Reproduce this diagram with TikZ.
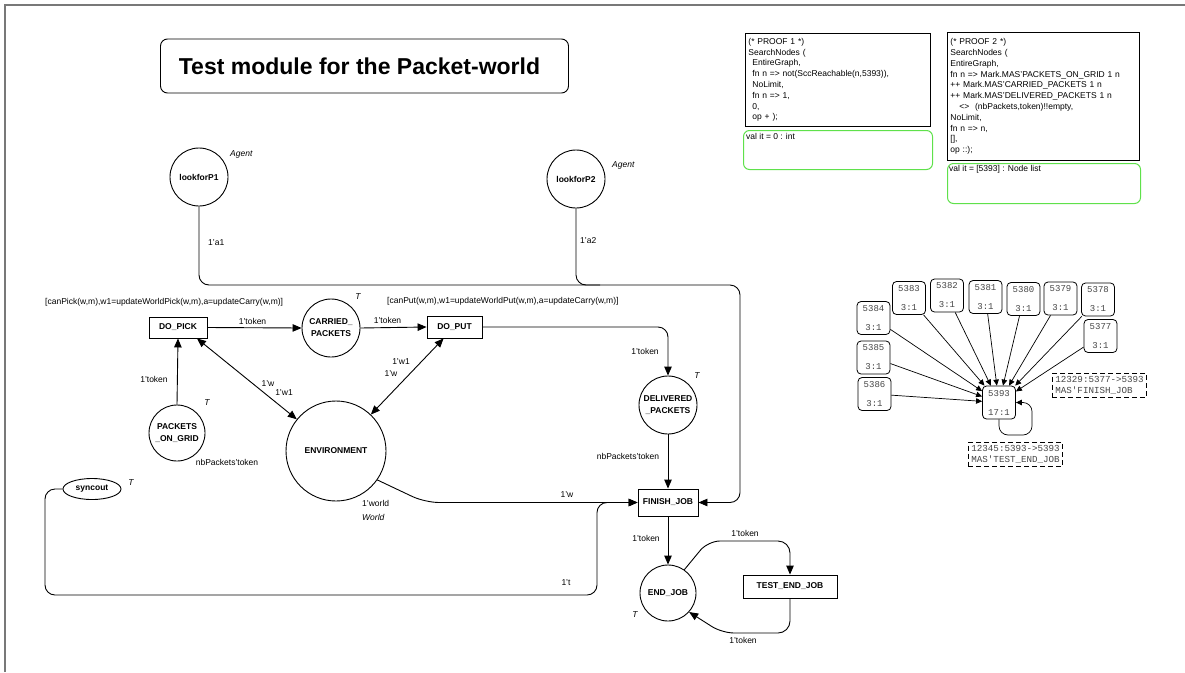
\documentclass[tikz,border=0pt]{standalone}
\usepackage{fontspec}
\setmainfont{Liberation Sans}
\setmonofont{Liberation Mono}
\usetikzlibrary{arrows.meta,shapes.geometric}

\definecolor{framec}{RGB}{120,120,120}
\definecolor{resgreen}{RGB}{95,225,75}
\definecolor{monoc}{RGB}{70,70,70}

\begin{document}
\begin{tikzpicture}[x=1pt,y=-1pt,
  net/.style={line width=0.9pt},
  arc/.style={net, -{Triangle[length=9pt,width=7.5pt]}},
  darc/.style={net, {Triangle[length=9pt,width=7.5pt]}-{Triangle[length=9pt,width=7.5pt]}},
  place/.style={circle, draw, net, minimum size=58pt, inner sep=0pt, align=center,
    font=\bfseries\fontsize{8.5}{12}\selectfont},
  trans/.style={rectangle, draw, net, inner sep=0pt,
    font=\bfseries\fontsize{8.5}{10}\selectfont},
  lbl/.style={inner sep=0pt, font=\fontsize{8.5}{10.8}\selectfont},
  typ/.style={inner sep=0pt, font=\fontsize{8.5}{10.8}\selectfont\itshape},
  pbox/.style={draw, line width=0.9pt, inner xsep=3pt, inner ysep=2pt, align=left,
    font=\fontsize{8.5}{10.8}\selectfont, anchor=north west},
  rbox/.style={draw=resgreen, line width=1pt, rounded corners=6pt, anchor=north west},
  snode/.style={draw, line width=0.8pt, rounded corners=4pt, minimum width=33pt,
    minimum height=33pt, inner sep=0pt, align=center, text=monoc,
    font=\ttfamily\fontsize{9}{19}\selectfont},
  sarc/.style={line width=0.7pt, -{Triangle[length=6pt,width=5.5pt]}},
  slbl/.style={draw, line width=0.8pt, dash pattern=on 5pt off 3pt, align=left,
    text=monoc, inner xsep=3pt, inner ysep=3pt, anchor=north west,
    font=\ttfamily\fontsize{9.2}{11}\selectfont}
]
\useasboundingbox (0,0) rectangle (1185,672);

% page frame
\draw[framec, line width=1.5pt] (5,672) -- (5,5) -- (1185,5);

% title
\node[draw, net, rounded corners=7pt, minimum width=408pt, minimum height=54pt] (title) at (364.5,66) {};
\node[inner sep=0pt, font=\bfseries\fontsize{23}{26}\selectfont] (titletxt) at (359.5,66.5) {Test module for the Packet-world};

% queries and their results
\node[pbox, text width=179pt, minimum height=93pt] (proofA) at (745,33) {%
(* PROOF 1 *)\\
SearchNodes (\\
\hspace*{4pt}EntireGraph,\\
\hspace*{4pt}fn n => not(SccReachable(n,5393)),\\
\hspace*{4pt}NoLimit,\\
\hspace*{4pt}fn n => 1,\\
\hspace*{4pt}0,\\
\hspace*{4pt}op + );};
\node[rbox, minimum width=189pt, minimum height=39pt] (resA) at (743,130) {};
\node[lbl, anchor=north west] (resAtxt) at (746,133) {val it = 0 : int};

\node[pbox, text width=186pt, minimum height=128pt] (proofB) at (947,32) {%
(* PROOF 2 *)\\
SearchNodes (\\
EntireGraph,\\
fn n => Mark.MAS'PACKETS\_ON\_GRID 1 n\\
++ Mark.MAS'CARRIED\_PACKETS 1 n\\
++ Mark.MAS'DELIVERED\_PACKETS 1 n\\
\hspace*{9pt}<>\ \ (nbPackets,token)!!empty,\\
NoLimit,\\
fn n => n,\\
\relax[],\\
op ::);};
\node[rbox, minimum width=193pt, minimum height=40pt] (resB) at (947,163) {};
\node[lbl, anchor=north west] (resBtxt) at (949,165) {val it = [5393] : Node list};

% places
\node[place] (lookA) at (199,177) {lookforP1};
\node[place] (lookB) at (576,179) {lookforP2};
\node[typ, anchor=west] (agentA) at (230,154) {Agent};
\node[typ, anchor=west] (agentB) at (612,165) {Agent};
\node[place] (carried) at (331,328) {CARRIED\_\\PACKETS};
\node[typ] (carriedT) at (358,297) {T};
\node[place, minimum size=56pt] (grid) at (177,433) {PACKETS\\\_ON\_GRID};
\node[typ] (gridT) at (207,403) {T};
\node[place, minimum size=100pt] (env) at (336,451) {ENVIRONMENT};
\node[place] (deliv) at (668,405) {DELIVERED\\\_PACKETS};
\node[typ] (delivT) at (697,376) {T};
\node[place, minimum size=56pt] (endjob) at (668,593) {END\_JOB};
\node[typ] (endT) at (635,615) {T};
\node[ellipse, draw, net, minimum width=58pt, minimum height=21pt, inner sep=0pt,
  font=\bfseries\fontsize{8.5}{10}\selectfont] (sync) at (92,489) {syncout};
\node[typ] (syncT) at (131,483) {T};

% transitions
\node[trans, minimum width=58pt, minimum height=21pt] (pick) at (178,327.5) {DO\_PICK};
\node[trans, minimum width=55pt, minimum height=22pt] (put) at (454.5,327) {DO\_PUT};
\node[trans, minimum width=60pt, minimum height=27pt] (finish) at (668,502.5) {FINISH\_JOB};
\node[trans, minimum width=94pt, minimum height=23pt] (testend) at (790,586.5) {TEST\_END\_JOB};

% guards
\node[lbl, anchor=west] (guardA) at (45,302) {[canPick(w,m),w1=updateWorldPick(w,m),a=updateCarry(w,m)]};
\node[lbl, anchor=west] (guardB) at (387,301) {[canPut(w,m),w1=updateWorldPut(w,m),a=updateCarry(w,m)]};

% agent bus into FINISH_JOB
\coordinate (busA) at (199,285);
\coordinate (busB) at (740,285);
\coordinate (busC) at (740,502.5);
\coordinate (busD) at (576,285);
\coordinate (busE) at (600,285);
\draw[arc, rounded corners=10pt] (lookA.south) -- (busA) -- (busB) -- (busC) -- (finish.east);
\draw[net, rounded corners=10pt] (lookB.south) -- (busD) -- (busE);
\node[lbl, anchor=west] (inA) at (208,243) {1'a1};
\node[lbl, anchor=west] (inB) at (580,241) {1'a2};

% packet flow
\draw[arc] (pick.east) -- (carried.west);
\node[lbl] (tkA) at (252.5,321) {1'token};
\draw[arc] (carried.east) -- (put.west);
\node[lbl] (tkB) at (387.5,320) {1'token};
\draw[arc] (grid.north) -- (pick.south);
\node[lbl] (tkC) at (154,379) {1'token};
\node[lbl] (gridInit) at (227,462) {nbPackets'token};

% world exchange
\draw[darc] (pick.-30) -- (env);
\node[lbl] (wA) at (268,384) {1'w};
\node[lbl] (wB) at (284,393) {1'w1};
\draw[darc] (put) -- (env);
\node[lbl] (wC) at (401,362) {1'w1};
\node[lbl] (wD) at (391,374) {1'w};

% delivery
\coordinate (putK) at (668,327);
\draw[arc, rounded corners=10pt] (put.east) -- (putK) -- (deliv.north);
\node[lbl] (tkD) at (645,351) {1'token};
\draw[arc] (deliv.south) -- (finish.north);
\node[lbl] (tkE) at (628,456) {nbPackets'token};

% environment into FINISH_JOB
\coordinate (envK) at (425,502.5);
\draw[arc, rounded corners=14pt] (env.-35) -- (envK) -- (finish.west);
\node[lbl] (wE) at (567,495) {1'w};
\node[lbl, anchor=west] (envInit) at (362,503) {1'world};
\node[typ, anchor=west] (envT) at (362,517) {World};

% syncout loop into FINISH_JOB
\coordinate (sA) at (45,489);
\coordinate (sB) at (45,595);
\coordinate (sC) at (597,595);
\coordinate (sD) at (597,502.5);
\draw[arc, rounded corners=10pt] (sync.west) -- (sA) -- (sB) -- (sC) -- (sD) -- (finish.west);
\node[lbl] (tT) at (566,583) {1't};

% end of job
\draw[arc] (finish.south) -- (endjob.north);
\node[lbl] (tkF) at (646,538) {1'token};
\coordinate (eA) at (708,541);
\coordinate (eB) at (790,541);
\draw[arc, rounded corners=12pt] (endjob.55) -- (eA) -- (eB) -- (testend.north);
\node[lbl] (tkG) at (745,533) {1'token};
\coordinate (eC) at (790,633);
\coordinate (eD) at (722,633);
\draw[arc, rounded corners=12pt] (testend.south) -- (eC) -- (eD) -- (endjob.-42);
\node[lbl] (tkH) at (743,640) {1'token};

% state space fragment
\node[snode] (s5384) at (873.5,318) {5384\\3:1};
\node[snode] (s5383) at (909,298) {5383\\3:1};
\node[snode] (s5382) at (947,295.5) {5382\\3:1};
\node[snode] (s5381) at (985.5,297) {5381\\3:1};
\node[snode] (s5380) at (1023.5,299) {5380\\3:1};
\node[snode] (s5379) at (1060.5,298.5) {5379\\3:1};
\node[snode] (s5378) at (1098,299.5) {5378\\3:1};
\node[snode] (s5377) at (1100.5,336) {5377\\3:1};
\node[snode] (s5385) at (873.5,357.5) {5385\\3:1};
\node[snode] (s5386) at (874.5,394) {5386\\3:1};
\node[snode] (s5393) at (999,402.5) {5393\\17:1};
\foreach \s in {5384,5383,5382,5381,5380,5379,5378,5377,5385,5386}
  \draw[sarc] (s\s) -- (s5393);
\coordinate (lpA) at (999,435);
\coordinate (lpB) at (1032,435);
\coordinate (lpC) at (1032,402.5);
\draw[sarc, rounded corners=9pt] (s5393.south) -- (lpA) -- (lpB) -- (lpC) -- (s5393.east);
\node[slbl] (arcInfoA) at (1052,373) {12329:5377->5393\\MAS'FINISH\_JOB};
\node[slbl] (arcInfoB) at (968,442) {12345:5393->5393\\MAS'TEST\_END\_JOB};
\end{tikzpicture}
\end{document}
